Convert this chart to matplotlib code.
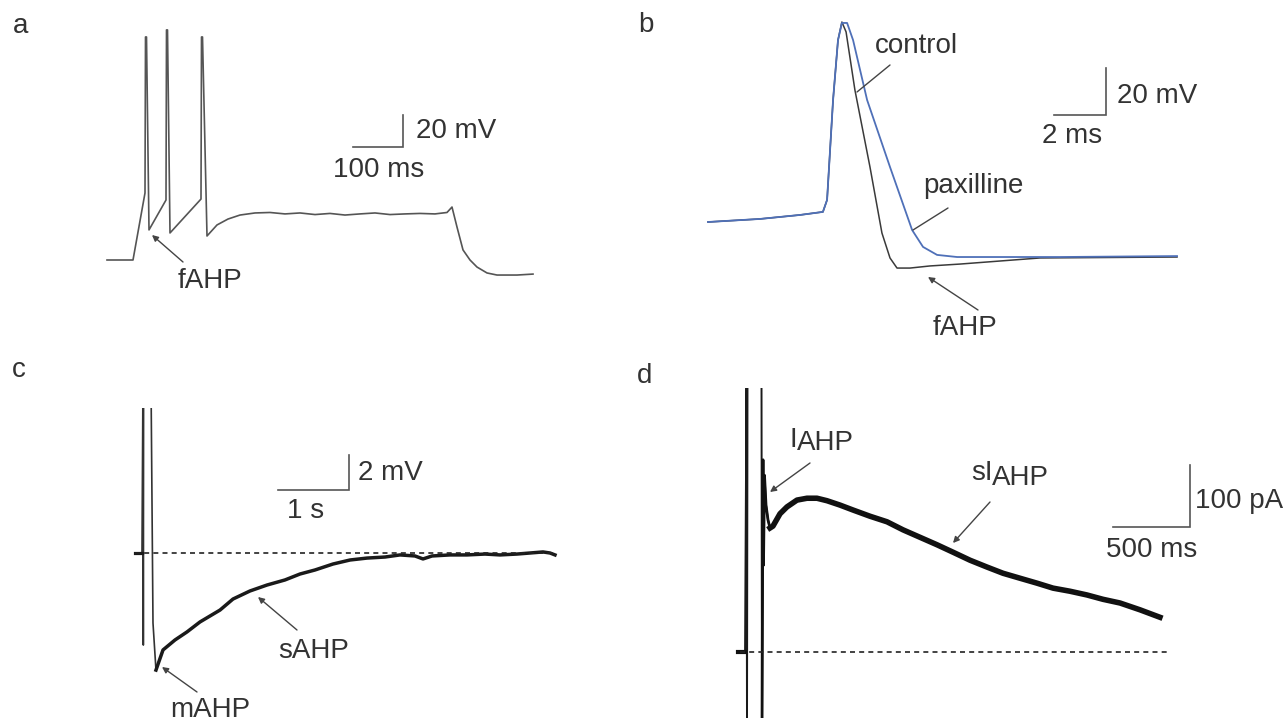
import matplotlib
matplotlib.use("Agg")
import matplotlib.pyplot as plt
from matplotlib.patches import FancyArrowPatch

plt.rcParams['font.family'] = ['Liberation Sans', 'DejaVu Sans']

W, H = 1283, 724
TXT = '#333333'

# ---- data ----
# a: spike train during a current step (ms, mV relative to rest)
a_t = [0, 52, 76, 77, 79, 84, 118, 119, 121, 126, 188, 189, 191, 200, 220, 242, 266, 296,
       326, 356, 386, 416, 446, 476, 506, 536, 566, 596, 626, 656, 680, 690,
       700, 712, 726, 740, 760, 780, 820, 852]
a_v = [0, 0, 41.9, 139.4, 139.4, 18.8, 37.5, 143.8, 143.8, 16.9, 38.1, 139.4, 139.4, 15, 21.9, 25.6, 28.1, 29.4,
       29.7, 28.8, 29.4, 28.4, 29.1, 28.1, 28.8, 29.4, 28.4, 28.8, 29.1, 28.8, 29.7, 33.1,
       20.6, 6.3, 0, -4.4, -8.1, -9.4, -9.4, -8.8]

# b: single action potential, control vs paxilline (ms, mV)
b_ctrl_t = [0, 2.0, 3.54, 4.42, 4.58, 4.81, 5.0, 5.15, 5.31, 5.65, 6.23, 6.69, 7.0, 7.27, 7.77,
            8.54, 9.69, 11.23, 12.77, 18.04]
b_ctrl_v = [0, 1.3, 3.0, 4.3, 9.4, 51.9, 77.4, 85.1, 80.9, 56.2, 23.4, -4.7, -15.3, -19.6, -19.6,
            -18.7, -17.9, -16.6, -15.3, -14.9]
b_pax_t = [0, 2.0, 3.54, 4.42, 4.58, 4.81, 5.0, 5.15, 5.35, 5.58, 6.12, 7.0, 7.85, 8.27, 8.81,
           9.58, 13.54, 18.04]
b_pax_v = [0, 1.3, 3.0, 4.3, 9.4, 51.9, 77.4, 84.7, 84.7, 77.4, 51.9, 23.4, -3.4, -10.6, -14.0,
           -14.9, -14.9, -14.5]

# c: afterhyperpolarization after a spike burst (s, mV from baseline)
c_t = [-0.225, -0.127, -0.113, -0.108, -0.104, 0, 0.028, 0.07, 0.169, 0.338, 0.507, 0.69, 0.972,
       1.155, 1.394, 1.634, 1.887, 2.099, 2.31, 2.563, 2.803, 3.042, 3.296, 3.507, 3.718, 3.831,
       3.958, 4.211, 4.451, 4.704, 4.915, 5.155, 5.338, 5.521, 5.62, 5.69]
c_v = [0, 0, 9.9, -5.26, 9.9, 9.9, -4.0, -6.69, -5.54, -4.97, -4.51, -3.94, -3.26,
       -2.63, -2.17, -1.83, -1.54, -1.2, -0.97, -0.63, -0.4, -0.29, -0.23, -0.11, -0.17, -0.34,
       -0.17, -0.11, -0.11, -0.06, -0.11, -0.06, 0, 0.06, 0, -0.11]

# d: afterhyperpolarizing current (ms, pA)
d_t = [-156, -110, -100.6, -97.4, -94.2, -3.2, 0, 6.5, 9.7, 16.2, 26, 39, 52, 71, 117, 162, 227,
       292, 357, 422, 506, 591, 701, 812, 916, 1026, 1136, 1240, 1351, 1461, 1565, 1675, 1786,
       1890, 2000, 2110, 2214, 2325, 2455, 2584]
d_i = [0, 0, 440, -130, 440, 440, -130, 310, 140, 285, 237, 213, 200, 203, 223, 234, 245,
       248, 248, 244, 237, 229, 219, 210, 197, 185, 173, 161, 148, 137, 127, 119, 111,
       103, 98, 92, 85, 79, 68, 56]

fig = plt.figure(figsize=(W / 100, H / 100), dpi=100)


def panel(box, origin, scale):
    # box in pixels (left, top, right, bottom); origin = pixel of data (0, 0)
    l, t, r, b = box
    ax = fig.add_axes([l / W, 1 - b / H, (r - l) / W, (b - t) / H])
    ox, oy = origin
    sx, sy = scale
    ax.set_xlim((l - ox) / sx, (r - ox) / sx)
    ax.set_ylim((oy - b) / sy, (oy - t) / sy)
    ax.axis('off')
    return ax


def scalebar(ax, x, y, dx, dy):
    ax.plot([x - dx, x, x], [y, y, y + dy], color='#555555', lw=1.2, solid_joinstyle='miter')


def txt(x, y, s):
    fig.text(x / W, 1 - y / H, s, fontsize=20, color=TXT, ha='left', va='baseline')


def pointer(x0, y0, x1, y1, head=True):
    tr = fig.transFigure
    p = FancyArrowPatch((x0 / W, 1 - y0 / H), (x1 / W, 1 - y1 / H), transform=tr,
                        arrowstyle='-|>' if head else '-', mutation_scale=9,
                        color='#444444', lw=1.0, shrinkA=0, shrinkB=0)
    fig.add_artist(p)


# a
ax = panel((0, 0, 640, 360), (107, 260), (0.5, 1.6))
ax.plot(a_t, a_v, color='#555555', lw=1.2)
scalebar(ax, 592, 70.6, 100, 20)
txt(13, 33, 'a')
txt(416, 138, '20 mV')
txt(333, 177, '100 ms')
txt(178, 288, 'fAHP')
pointer(183, 262, 152, 235)

# b
ax = panel((640, 0, 1283, 360), (708, 222), (26, 2.35))
ax.plot(b_ctrl_t, b_ctrl_v, color='#3a3a3a', lw=1.1)
ax.plot(b_pax_t, b_pax_v, color='#4f70b8', lw=1.3)
scalebar(ax, 15.31, 45.5, 2, 20)
txt(638, 32, 'b')
txt(875, 53, 'control')
txt(923, 193, 'paxilline')
txt(1117, 103, '20 mV')
txt(1042, 143, '2 ms')
txt(933, 335, 'fAHP')
pointer(890, 65, 857, 92, head=False)
pointer(948, 208, 913, 230, head=False)
pointer(978, 310, 928, 277)

# c
ax = panel((0, 408, 640, 724), (151, 553), (71, 17.5))
ax.plot(c_t, c_v, color='#333333', lw=1.2)
ax.plot(c_t[7:], c_v[7:], color='#1a1a1a', lw=2.5)
ax.plot(c_t[:2], c_v[:2], color='#1a1a1a', lw=2.3)
ax.plot([-0.225, 5.66], [0, 0], color='#222222', lw=1.2, dashes=(3, 2.5))
scalebar(ax, 2.789, 3.6, 1, 2)
txt(12, 377, 'c')
txt(358, 480, '2 mV')
txt(287, 518, '1 s')
txt(278, 658, 'sAHP')
txt(170, 717, 'mAHP')
pointer(297, 630, 258, 597)
pointer(197, 692, 162, 667)

# d
ax = panel((640, 388, 1283, 718), (762, 652), (0.154, 0.62))
ax.plot(d_t, d_i, color='#1a1a1a', lw=1.4)
ax.plot(d_t[12:], d_i[12:], color='#111111', lw=4.0)
ax.plot(d_t[6:13], d_i[6:13], color='#111111', lw=2.0)
ax.plot(d_t[:2], d_i[:2], color='#111111', lw=3.0)
ax.plot([-143, 2636], [0, 0], color='#222222', lw=1.2, dashes=(3, 2.5))
scalebar(ax, 2779, 201.6, 500, 100)
txt(637, 383, 'd')
txt(1195, 508, '100 pA')
txt(1106, 557, '500 ms')
txt(789, 447, 'I')
txt(797, 450, 'AHP')
txt(971, 480, 'sI')
txt(992, 485, 'AHP')
pointer(810, 463, 770, 492)
pointer(990, 502, 953, 543)

fig.savefig('out.png', dpi=100)
